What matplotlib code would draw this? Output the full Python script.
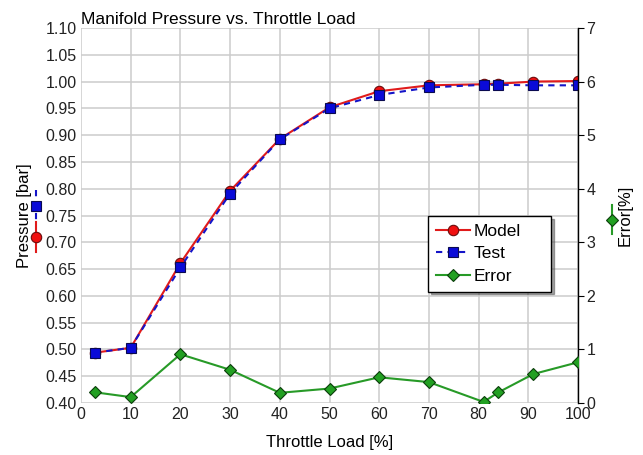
import matplotlib

matplotlib.use("Agg")
import matplotlib.pyplot as plt
from matplotlib.lines import Line2D

# -----------------------------
# Data
# -----------------------------
throttle = [2.8, 10, 20, 30, 40, 50, 60, 70, 81, 84, 91, 100]
model_bar = [0.494, 0.503, 0.661, 0.796, 0.893, 0.952, 0.982, 0.993, 0.995, 0.996, 1.000, 1.001]
test_bar = [0.494, 0.503, 0.653, 0.791, 0.892, 0.950, 0.975, 0.989, 0.994, 0.994, 0.993, 0.993]
error_pct = [0.20, 0.11, 0.91, 0.62, 0.19, 0.27, 0.48, 0.39, 0.02, 0.20, 0.54, 0.76]

x_ticks = list(range(0, 101, 10))
p_ticks = [0.40 + 0.05 * i for i in range(15)]
e_ticks = list(range(0, 8))

RED = "#e01b1b"
BLUE = "#1414c8"
GREEN = "#279a27"
FONT = "Liberation Sans"

plt.rcParams["font.family"] = [FONT, "DejaVu Sans"]
plt.rcParams["font.size"] = 12

fig = plt.figure(figsize=(6.43, 4.55), dpi=100)
ax = fig.add_axes([81 / 643, 1 - 403 / 455, 497 / 643, 375 / 455])
ax2 = ax.twinx()

ax.plot(throttle, model_bar, color=RED, lw=1.5, marker="o", ms=7.5,
        mfc="#f01010", mec="#6a0c0c", mew=0.8, label="Model", zorder=3)
ax.plot(throttle, test_bar, color=BLUE, lw=1.5, ls=(0, (3, 2.5)), marker="s", ms=6.5,
        mfc="#0a0ad8", mec="#0a0a50", mew=0.8, label="Test", zorder=4)
ax2.plot(throttle, error_pct, color=GREEN, lw=1.5, marker="D", ms=6.5,
         mfc="#22a022", mec="#0b3d0b", mew=0.8, label="Error", zorder=3)

ax.set_xlim(0, 100)
ax.set_ylim(0.40, 1.10)
ax2.set_ylim(0, 7)
ax.set_xticks(x_ticks)
ax.set_yticks(p_ticks)
ax.set_yticklabels([f"{v:.2f}" for v in p_ticks])
ax2.set_yticks(e_ticks)

ax.grid(True, color="#cccccc", lw=1.1)
ax.set_axisbelow(True)
for s in ["top", "left", "bottom", "right"]:
    ax.spines[s].set_visible(False)
for s in ["top", "left", "bottom"]:
    ax2.spines[s].set_visible(False)
ax2.spines["right"].set_color("black")
ax2.spines["right"].set_linewidth(1.0)

ax.tick_params(axis="both", length=0, pad=3, labelsize=11.5, colors="#222222")
ax2.tick_params(axis="y", length=4, width=0.8, pad=2, labelsize=11.5, colors="#222222")
ax2.tick_params(axis="y", color="black")

ax.set_title("Manifold Pressure vs. Throttle Load", loc="left", pad=3, fontsize=12.5)
ax.set_xlabel("Throttle Load [%]", labelpad=9, fontsize=12)
ax.set_ylabel("Pressure [bar]", labelpad=10, fontsize=12)
ax2.set_ylabel("Error[%]", labelpad=16, fontsize=12)

handles = ax.get_lines() + ax2.get_lines()
leg = ax2.legend(handles, [h.get_label() for h in handles], loc="upper left",
                 bbox_to_anchor=(0.698, 0.30, 0.248, 0.199), mode="expand",
                 borderaxespad=0, fancybox=False, shadow=True, edgecolor="black",
                 framealpha=1, fontsize=12.5, handlelength=2.0, handletextpad=0.2,
                 labelspacing=0.42, borderpad=0.45)
leg.get_frame().set_linewidth(1.0)


# small series keys next to the axis titles
def key(xpx, y0px, y1px, color, ls, marker, mfc, mec, ms):
    xs = [xpx / 643] * 3
    ys = [1 - y0px / 455, 1 - (y0px + y1px) / 2 / 455, 1 - y1px / 455]
    fig.add_artist(Line2D(xs, ys, transform=fig.transFigure, color=color, lw=1.5,
                          ls=ls, marker=marker, markevery=[1], mfc=mfc, mec=mec,
                          ms=ms, mew=0.8))


key(36, 190, 223, BLUE, (0, (3, 2.5)), "s", "#0a0ad8", "#0a0a50", 6.5)
key(36, 222, 252, RED, "-", "o", "#f01010", "#6a0c0c", 7.5)
key(612, 205, 234, GREEN, "-", "D", "#22a022", "#0b3d0b", 6.5)

fig.savefig("out.png", dpi=100)
